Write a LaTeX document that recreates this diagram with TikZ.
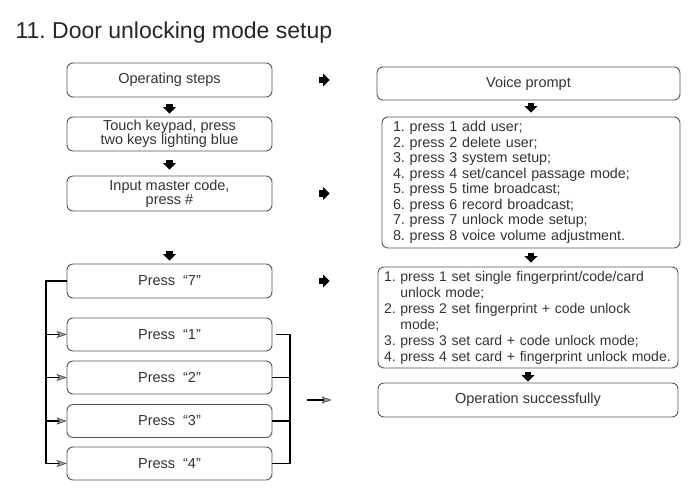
\documentclass[tikz,border=0pt]{standalone}
\usepackage{fontspec}
\setmainfont{Liberation Sans}
\usetikzlibrary{arrows.meta}
\definecolor{txt}{HTML}{333333}
\definecolor{edge}{HTML}{555555}
\frenchspacing
\begin{document}
\begin{tikzpicture}[x=1pt,y=-1pt,
    box/.style={draw=edge, line width=0.9pt, rounded corners=6pt, text=txt, inner sep=0pt,
      font=\fontsize{14.5}{14}\selectfont},
    stepbox/.style={box, align=center, minimum width=205pt, minimum height=34pt},
    infobox/.style={box, align=left, inner xsep=#1},
    blockarr/.style={line width=6.5pt, -{Triangle[width=13pt,length=6.5pt]}},
    feedarr/.style={line width=1.5pt, -{Stealth[length=10pt,width=7pt,inset=2.5pt,fill=gray!70,color=black!75,line width=0.6pt]}},
    bracket/.style={line width=1.8pt}]
    \useasboundingbox (0,0) rectangle (699,488);
    \node[anchor=base west, text=black!85, font=\fontsize{23}{26}\selectfont] (title) at (12,38) {11. Door unlocking mode setup};
    \node[stepbox] (ops) at (169.5,80) {Operating steps};
    \node[stepbox] (touch) at (169.5,134) {Touch keypad, press\\two keys lighting blue};
    \node[stepbox, minimum height=35pt] (master) at (169.5,193.5) {Input master code,\\press \#};
    \node[stepbox] (p7) at (169.5,281) {Press\hspace{8pt}“7”};
    \foreach \k/\y in {1/334.5, 2/377.5, 3/421, 4/463.5}
        \node[stepbox, minimum height=33pt] (p\k) at (169.5,\y) {Press\hspace{8pt}“\k”};
    \node[box, minimum width=303pt, minimum height=33pt] (voice) at (528.5,83.5) {Voice prompt};
    \node[infobox=11pt, text width=276pt, minimum height=131pt, font=\fontsize{14.3}{15.5}\selectfont] (menu) at (531,182.5)
        {1. press 1 add user;\\2. press 2 delete user;\\3. press 3 system setup;\\4. press 4 set/cancel passage mode;\\
         5. press 5 time broadcast;\\6. press 6 record broadcast;\\7. press 7 unlock mode setup;\\8. press 8 voice volume adjustment.};
    \node[infobox=6pt, text width=288pt, minimum height=101pt, font=\fontsize{14}{16}\selectfont] (mode) at (528,317.5)
        {1. press 1 set single fingerprint/code/card\\\phantom{1. }unlock mode;\\2. press 2 set fingerprint + code unlock\\
         \phantom{2. }mode;\\3. press 3 set card + code unlock mode;\\4. press 4 set card + fingerprint unlock mode.};
    \node[box, minimum width=300pt, minimum height=34pt] (done) at (528,400) {Operation successfully};
    \draw[blockarr, shorten <=7pt, shorten >=3pt] (ops) -- (touch);
    \draw[blockarr, shorten <=9pt, shorten >=6pt] (touch) -- (master);
    \draw[blockarr, shorten <=40pt, shorten >=3pt] (master) -- (p7);
    \draw[blockarr, shorten <=47pt, shorten >=47pt] (ops) -- (ops -| voice.west);
    \draw[blockarr, shorten <=47pt, shorten >=52pt] (master) -- (master -| menu.west);
    \draw[blockarr, shorten <=47pt, shorten >=48pt] (p7) -- (p7 -| mode.west);
    \draw[blockarr, shorten <=3pt, shorten >=4pt] (menu.north |- voice.south) -- (menu.north);
    \draw[blockarr, shorten <=5pt, shorten >=4pt] (menu.south) -- (menu.south |- mode.north);
    \draw[blockarr, shorten <=4pt, shorten >=1pt] (mode.south) -- (done.north);
    \coordinate (lb) at (46,281);
    \coordinate (rb) at (290,334.5);
    \draw[bracket] (p7.west) -- (lb) -- (lb |- p4.west);
    \foreach \k in {1,2,3,4}
        \draw[feedarr] (lb |- p\k.west) -- (p\k.west);
    \draw[bracket, shorten <=4pt] (p1.east) -- (rb) -- (rb |- p4.east);
    \foreach \k in {2,3,4}
        \draw[bracket] (p\k.east) -- (rb |- p\k.east);
    \draw[feedarr, shorten <=17pt, shorten >=46pt] (rb |- done.west) -- (done.west);
\end{tikzpicture}
\end{document}
